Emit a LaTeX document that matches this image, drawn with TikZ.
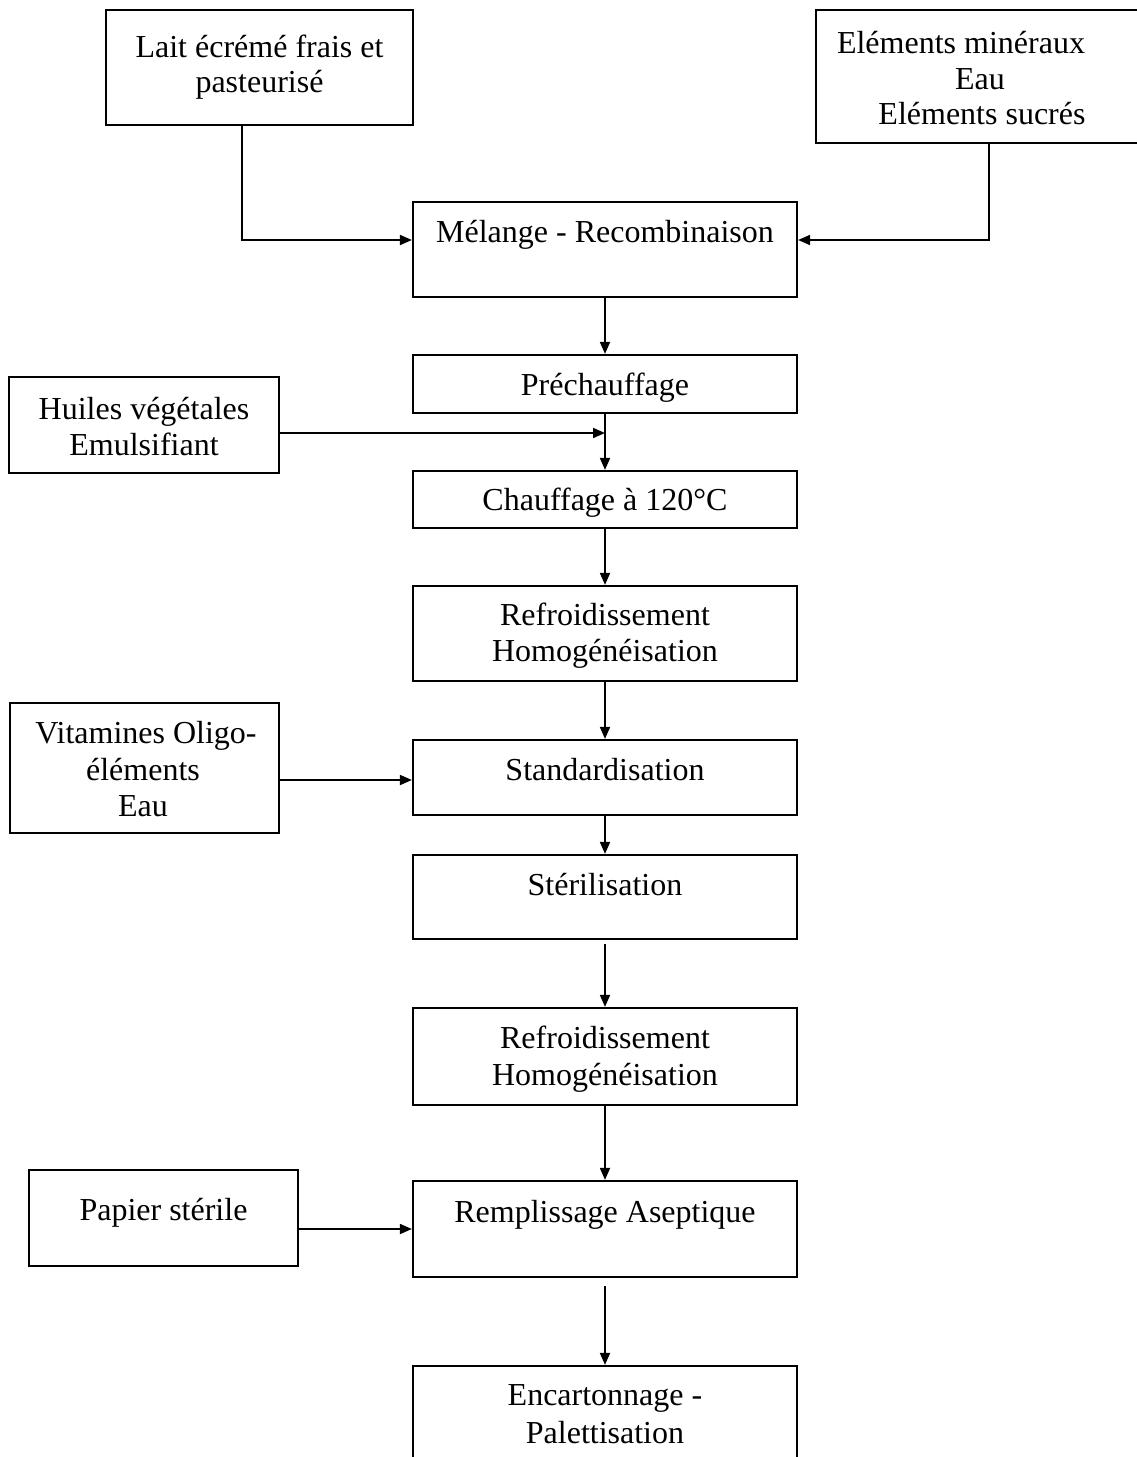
\documentclass[tikz,border=0pt]{standalone}
\usepackage{fontspec}
\setmainfont{Liberation Serif}
\usetikzlibrary{arrows.meta}
\begin{document}
\begin{tikzpicture}[x=1pt,y=-1pt,
  box/.style={draw, line width=2.2pt, rectangle, inner sep=0pt},
  lbl/.style={anchor=base, inner sep=0pt, font=\fontsize{32}{36}\selectfont},
  arr/.style={line width=1.8pt, -{Triangle[length=12pt,width=10pt]}}]
\useasboundingbox[fill=white] (0,0) rectangle (1136,1457);

% side boxes
\node[box, minimum width=307pt, minimum height=115pt] (b1) at (259.5,67.5) {};
\node[lbl] (t1a) at (259.5,57) {Lait écrémé frais et};
\node[lbl] (t1b) at (259.5,92) {pasteurisé};

\node[box, minimum width=334pt, minimum height=133pt] (b2) at (983,76.5) {};
\node[lbl] (t2a) at (961,53) {Eléments minéraux};
\node[lbl] (t2b) at (980,89) {Eau};
\node[lbl] (t2c) at (982,124) {Eléments sucrés};

\node[box, minimum width=270pt, minimum height=96pt] (h) at (144,425) {};
\node[lbl] (tha) at (144,419) {Huiles végétales};
\node[lbl] (thb) at (144,455) {Emulsifiant};

\node[box, minimum width=269pt, minimum height=130pt] (v) at (144.5,768) {};
\node[lbl] (tva) at (146,743) {Vitamines Oligo-};
\node[lbl] (tvb) at (143,780) {éléments};
\node[lbl] (tvc) at (143,816) {Eau};

\node[box, minimum width=269pt, minimum height=96pt] (p) at (163.5,1218) {};
\node[lbl] (tp) at (163.5,1220) {Papier stérile};

% main column
\node[box, minimum width=384pt, minimum height=95pt] (b3) at (605,249.5) {};
\node[lbl] (t3) at (605,242) {Mélange - Recombinaison};

\node[box, minimum width=384pt, minimum height=58pt] (b4) at (605,384) {};
\node[lbl] (t4) at (605,395) {Préchauffage};

\node[box, minimum width=384pt, minimum height=57pt] (b6) at (605,499.5) {};
\node[lbl] (t6) at (605,510) {Chauffage à 120°C};

\node[box, minimum width=384pt, minimum height=95pt] (b7) at (605,633.5) {};
\node[lbl] (t7a) at (605,625) {Refroidissement};
\node[lbl] (t7b) at (605,661) {Homogénéisation};

\node[box, minimum width=384pt, minimum height=75pt] (b9) at (605,777.5) {};
\node[lbl] (t9) at (605,780) {Standardisation};

\node[box, minimum width=384pt, minimum height=84pt] (b10) at (605,897) {};
\node[lbl] (t10) at (605,895) {Stérilisation};

\node[box, minimum width=384pt, minimum height=97pt] (b11) at (605,1056.5) {};
\node[lbl] (t11a) at (605,1048) {Refroidissement};
\node[lbl] (t11b) at (605,1085) {Homogénéisation};

\node[box, minimum width=384pt, minimum height=96pt] (b13) at (605,1229) {};
\node[lbl] (t13) at (605,1222) {Remplissage Aseptique};

\node[box, minimum width=384pt, minimum height=134pt] (b14) at (605,1433) {};
\node[lbl] (t14a) at (605,1405) {Encartonnage -};
\node[lbl] (t14b) at (605,1443) {Palettisation};

% connectors
\draw[arr] ([xshift=-17.5pt]b1.south) |- ([yshift=9.5pt]b3.west);
\draw[arr] ([xshift=6pt]b2.south) |- ([yshift=9.5pt]b3.east);
\draw[arr] (b3.south) -- (b4.north);
\draw[arr] (b4.south) -- (b6.north);
\draw[arr] ([yshift=-8pt]h.east) -- ([yshift=-8pt]h.east -| b4.south);
\draw[arr] (b6.south) -- (b7.north);
\draw[arr] (b7.south) -- (b9.north);
\draw[arr] ([yshift=-2.5pt]v.east |- b9.west) -- ([yshift=-2.5pt]b9.west);
\draw[arr] (b9.south) -- (b10.north);
\draw[arr, shorten <=4pt] (b10.south) -- (b11.north);
\draw[arr] (b11.south) -- (b13.north);
\draw[arr] (p.east |- b13.west) -- (b13.west);
\draw[arr, shorten <=8pt] (b13.south) -- (b14.north);
\end{tikzpicture}
\end{document}
